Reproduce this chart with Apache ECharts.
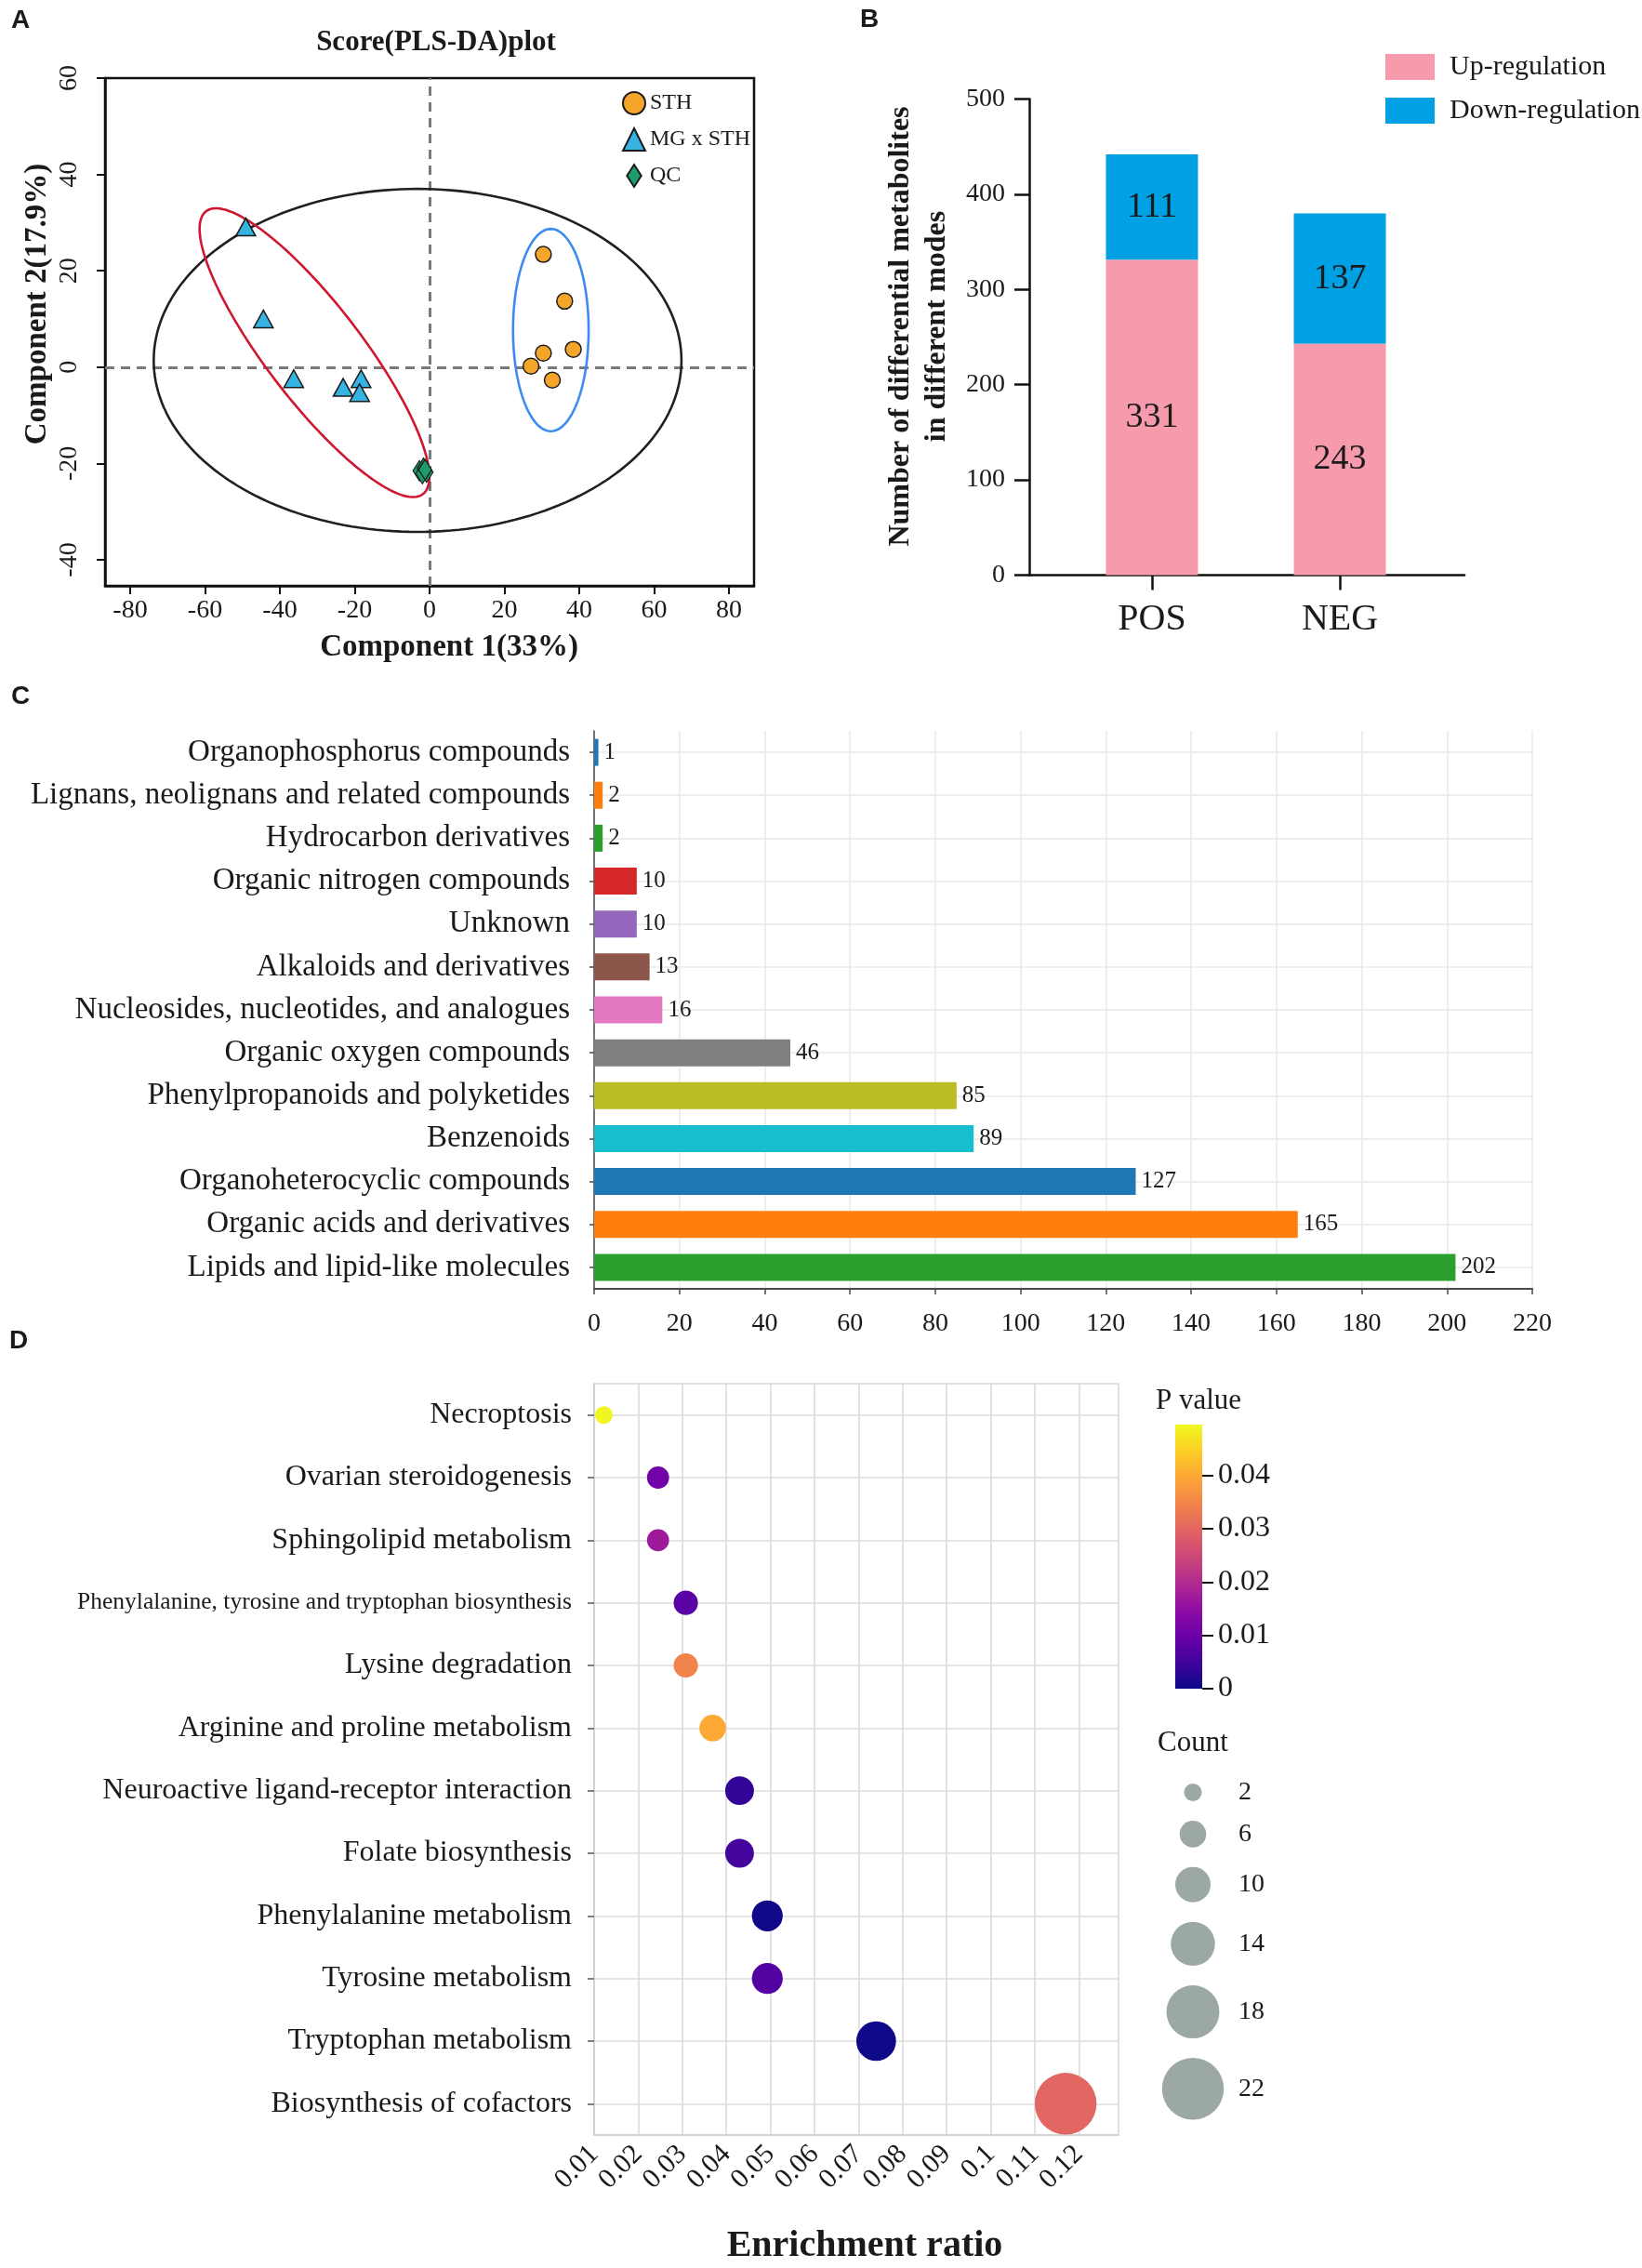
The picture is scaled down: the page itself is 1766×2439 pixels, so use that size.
<!DOCTYPE html>
<html><head><meta charset="utf-8">
<script src="https://cdn.jsdelivr.net/npm/echarts@6/dist/echarts.min.js"></script>
<style>html,body{margin:0;padding:0;background:#fff}#c{width:1766px;height:2439px}</style>
</head><body><div id="c"></div>
<script>
// ---------- Panel A : PLS-DA scores ----------
const sthX = [30.4, 36.1, 30.4, 38.4, 27.1, 32.8];
const sthY = [23.4, 13.7, 2.9, 3.7, 0.2, -2.7];
const mgX = [-49.1, -44.4, -36.3, -23.1, -18.3, -18.7];
const mgY = [29.1, 10.0, -2.4, -4.2, -2.4, -5.3];
const qcX = [-2.7, -1.6, -0.8, -1.9, -1.2];
const qcY = [-21.5, -21.0, -21.8, -22.1, -21.3];
const ellipseNames = ['All samples', 'MG x STH ellipse', 'STH ellipse'];
const ellipseCenter = [[-3.2, 1.4], [-30.75, 3.0], [32.4, 7.7]];
const ellipseU = [[70.5, 0], [28.5, -29.6], [10.1, 0]];
const ellipseV = [[0, 35.6], [11.4, 4.74], [0, 21.0]];
const ticksAX = [-80, -60, -40, -20, 0, 20, 40, 60, 80];
const ticksAY = [-40, -20, 0, 20, 40, 60];

// ---------- Panel B : up / down regulation ----------
const modes = ['POS', 'NEG'];
const upReg = [331, 243];
const downReg = [111, 137];

// ---------- Panel C : classes ----------
const classNames = ['Organophosphorus compounds', 'Lignans, neolignans and related compounds', 'Hydrocarbon derivatives',
  'Organic nitrogen compounds', 'Unknown', 'Alkaloids and derivatives', 'Nucleosides, nucleotides, and analogues',
  'Organic oxygen compounds', 'Phenylpropanoids and polyketides', 'Benzenoids', 'Organoheterocyclic compounds',
  'Organic acids and derivatives', 'Lipids and lipid-like molecules'];
const classCounts = [1, 2, 2, 10, 10, 13, 16, 46, 85, 89, 127, 165, 202];

// ---------- Panel D : KEGG enrichment ----------
const pathways = ['Necroptosis', 'Ovarian steroidogenesis', 'Sphingolipid metabolism',
  'Phenylalanine, tyrosine and tryptophan biosynthesis', 'Lysine degradation', 'Arginine and proline metabolism',
  'Neuroactive ligand-receptor interaction', 'Folate biosynthesis', 'Phenylalanine metabolism',
  'Tyrosine metabolism', 'Tryptophan metabolism', 'Biosynthesis of cofactors'];
const enrichRatio = [0.0122, 0.0245, 0.0245, 0.0308, 0.0308, 0.0369, 0.0430, 0.0430, 0.0493, 0.0493, 0.0740, 0.1170];
const pathCount = [2, 4, 4, 5, 5, 6, 7, 7, 8, 8, 12, 22];
const pValue = [0.049, 0.011, 0.017, 0.008, 0.0347, 0.040, 0.0035, 0.0055, 0.0003, 0.0074, 0.0002, 0.030];
const ratioTicks = [0.01, 0.02, 0.03, 0.04, 0.05, 0.06, 0.07, 0.08, 0.09, 0.1, 0.11, 0.12];
const pTicks = [0, 0.01, 0.02, 0.03, 0.04];
const pMax = 0.0495;
const countLegend = [2, 6, 10, 14, 18, 22];

// ---------- styles ----------
const SERIF = '"Liberation Serif", "Times New Roman", serif';
const SANS = '"Liberation Sans", Arial, sans-serif';
const TXT = '#1a1a1a';
const barColors = ['#1f77b4', '#ff7f0e', '#2ca02c', '#d62728', '#9467bd', '#8c564b', '#e377c2', '#7f7f7f',
  '#bcbd22', '#17becf', '#1f77b4', '#ff7f0e', '#2ca02c'];
const plasma = ['#0d0887', '#41049d', '#6a00a8', '#8f0da4', '#b12a90', '#cc4778', '#e16462', '#f2844b', '#fca636', '#fcce25', '#f0f921'];
const sizeOf = c => 14.3 + 2.37 * c;
const upColor = '#f79aab', downColor = '#00a0e4';

function ellipsePts(i) {
  const pts = []; const N = 200;
  for (let k = 0; k <= N; k++) {
    const t = 2 * Math.PI * k / N;
    pts.push([ellipseCenter[i][0] + ellipseU[i][0] * Math.cos(t) + ellipseV[i][0] * Math.sin(t),
              ellipseCenter[i][1] + ellipseU[i][1] * Math.cos(t) + ellipseV[i][1] * Math.sin(t)]);
  }
  return pts;
}
const ellipseColors = ['#231f20', '#cf1830', '#3d8bf0'];

const chart = echarts.init(document.getElementById('c'), null, {renderer: 'canvas'});

const gridCommon = {containLabel: false, outerBoundsMode: 'none'};
const grids = [
  Object.assign({left: 113, top: 84, width: 698, height: 546, show: true, borderColor: '#111', borderWidth: 2.5}, gridCommon),
  Object.assign({left: 1107, top: 106.5, width: 468, height: 512}, gridCommon),
  Object.assign({left: 639, top: 786, width: 1009, height: 600}, gridCommon),
  Object.assign({left: 639, top: 1488, width: 564, height: 808, show: true, borderColor: '#d6d6d6', borderWidth: 1.5}, gridCommon),
  Object.assign({left: 1264, top: 1532, width: 29, height: 284}, gridCommon)
];

const xAxes = [
  {type: 'value', gridIndex: 0, min: -86.7, max: 86.7,
   axisLine: {onZero: false, lineStyle: {color: '#111', width: 2.5}},
   axisTick: {customValues: ticksAX, length: 9, lineStyle: {color: '#111', width: 2}},
   axisLabel: {customValues: ticksAX, fontFamily: SERIF, fontSize: 28, color: TXT, margin: 13},
   splitLine: {show: false}},
  {type: 'value', gridIndex: 1, min: 0.347, max: 2.663,
   axisLine: {onZero: false, lineStyle: {color: '#111', width: 2.5}},
   axisTick: {customValues: [1, 2], length: 16, lineStyle: {color: '#111', width: 2.5}},
   axisLabel: {customValues: [1, 2], formatter: v => modes[Math.round(v) - 1], fontFamily: SERIF, fontSize: 40, color: TXT, margin: 28},
   splitLine: {show: false}},
  {type: 'value', gridIndex: 2, min: 0, max: 220, interval: 20,
   axisLine: {show: true, onZero: false, lineStyle: {color: '#4a4a4a', width: 2}},
   axisTick: {show: true, length: 6, lineStyle: {color: '#4a4a4a', width: 1.5}},
   axisLabel: {fontFamily: SERIF, fontSize: 28, color: TXT, margin: 24},
   splitLine: {show: true, lineStyle: {color: '#e9e9e9', width: 1.5}}},
  {type: 'value', gridIndex: 3, min: 0.01, max: 0.129, interval: 0.01,
   axisLine: {show: true, onZero: false, lineStyle: {color: '#cfcfcf', width: 1.5}},
   axisTick: {customValues: ratioTicks, length: 7, lineStyle: {color: '#555', width: 1.5}},
   axisLabel: {customValues: ratioTicks, rotate: 45, fontFamily: SERIF, fontSize: 30, color: TXT, margin: 16},
   splitLine: {show: true, lineStyle: {color: '#d9d9d9', width: 1.5}}},
  {type: 'category', gridIndex: 4, data: ['p'], show: false}
];

const yAxes = [
  {type: 'value', gridIndex: 0, min: -45.4, max: 60,
   axisLine: {onZero: false, lineStyle: {color: '#111', width: 2.5}},
   axisTick: {customValues: ticksAY, length: 9, lineStyle: {color: '#111', width: 2}},
   axisLabel: {customValues: ticksAY, rotate: 90, fontFamily: SERIF, fontSize: 28, color: TXT, margin: 24},
   splitLine: {show: false}},
  {type: 'value', gridIndex: 1, min: 0, max: 500, interval: 100,
   axisLine: {show: true, onZero: false, lineStyle: {color: '#111', width: 2.5}},
   axisTick: {show: true, length: 16, lineStyle: {color: '#111', width: 2.5}},
   axisLabel: {fontFamily: SERIF, fontSize: 28, color: TXT, margin: 26},
   splitLine: {show: false}},
  {type: 'category', gridIndex: 2, data: classNames, inverse: true,
   axisLine: {show: true, onZero: false, lineStyle: {color: '#4a4a4a', width: 1.5}},
   axisTick: {show: true, alignWithLabel: true, length: 5, lineStyle: {color: '#4a4a4a', width: 1.5}},
   axisLabel: {interval: 0, fontFamily: SERIF, fontSize: 33, color: TXT, margin: 26},
   splitLine: {show: false}},
  {type: 'category', gridIndex: 3, data: pathways, inverse: true,
   axisLine: {show: true, onZero: false, lineStyle: {color: '#cfcfcf', width: 1.5}},
   axisTick: {show: true, alignWithLabel: true, length: 7, lineStyle: {color: '#555', width: 1.5}},
   axisLabel: {interval: 0, margin: 24,
     formatter: v => v.length > 45 ? '{s|' + v + '}' : '{n|' + v + '}',
     rich: {s: {fontFamily: SERIF, fontSize: 25.5, color: TXT}, n: {fontFamily: SERIF, fontSize: 32, color: TXT}}},
   splitLine: {show: false}},
  {type: 'value', gridIndex: 4, min: 0, max: pMax, position: 'right',
   axisLine: {show: false, onZero: false},
   axisTick: {show: true, customValues: pTicks, length: 12, lineStyle: {color: '#111', width: 2}},
   axisLabel: {customValues: pTicks, fontFamily: SERIF, fontSize: 32, color: TXT, margin: 17},
   splitLine: {show: false}}
];

const series = [];
// Panel A ellipses + zero lines
ellipseNames.forEach((n, i) => {
  const s = {name: n, type: 'line', xAxisIndex: 0, yAxisIndex: 0, data: ellipsePts(i), showSymbol: false, symbol: 'none',
    lineStyle: {color: ellipseColors[i], width: 2.6}, z: 3, silent: true};
  if (i === 0) {
    s.markLine = {silent: true, symbol: ['none', 'none'], z: 2, label: {show: false},
      lineStyle: {color: '#7a7a7a', type: [10, 7], width: 3},
      data: [{xAxis: 0}, {yAxis: 0}]};
  }
  series.push(s);
});
series.push({name: 'STH', type: 'scatter', xAxisIndex: 0, yAxisIndex: 0, data: sthX.map((x, i) => [x, sthY[i]]),
  symbol: 'circle', symbolSize: 17, itemStyle: {color: '#f6a52b', borderColor: '#1a1a1a', borderWidth: 1.5, opacity: 1}, z: 6});
series.push({name: 'MG x STH', type: 'scatter', xAxisIndex: 0, yAxisIndex: 0, data: mgX.map((x, i) => [x, mgY[i]]),
  symbol: 'triangle', symbolSize: [21, 19], itemStyle: {color: '#36b3e2', borderColor: '#1a1a1a', borderWidth: 1.5, opacity: 1}, z: 6});
series.push({name: 'QC', type: 'scatter', xAxisIndex: 0, yAxisIndex: 0, data: qcX.map((x, i) => [x, qcY[i]]),
  symbol: 'diamond', symbolSize: [14, 22], itemStyle: {color: '#1f9c6b', borderColor: '#1a1a1a', borderWidth: 1.2, opacity: 1}, z: 6});

// Panel B : up-regulation bars from 0, down-regulation segments stacked on top
series.push({name: 'Up-regulation', type: 'bar', xAxisIndex: 1, yAxisIndex: 1, barWidth: 99,
  data: modes.map((m, i) => [i + 1, upReg[i]]), itemStyle: {color: upColor},
  label: {show: true, position: 'inside', formatter: p => p.value[1], fontFamily: SERIF, fontSize: 38, color: TXT}});
series.push({name: 'Down-regulation', type: 'custom', xAxisIndex: 1, yAxisIndex: 1,
  data: modes.map((m, i) => [i + 1, upReg[i], downReg[i]]), encode: {x: 0, y: 1},
  itemStyle: {color: downColor},
  renderItem: (params, api) => {
    const x = api.value(0), base = api.value(1), h = api.value(2);
    const p0 = api.coord([x, base]), p1 = api.coord([x, base + h]);
    return {type: 'rect', shape: {x: p0[0] - 49.5, y: p1[1], width: 99, height: p0[1] - p1[1]},
      style: {fill: downColor},
      textContent: {style: {text: String(h), font: '38px ' + SERIF, fill: TXT}},
      textConfig: {position: 'inside'}};
  }});

// Panel C
series.push({name: 'classes', type: 'bar', xAxisIndex: 2, yAxisIndex: 2, barWidth: 29, z: 3,
  data: classCounts.map((v, i) => ({value: v, itemStyle: {color: barColors[i]}})),
  label: {show: true, position: 'right', distance: 6, fontFamily: SERIF, fontSize: 25, color: TXT},
  markLine: {silent: true, symbol: ['none', 'none'], z: 1, label: {show: false},
    lineStyle: {color: '#e9e9e9', type: 'solid', width: 1.5},
    data: classNames.map(c => ({yAxis: c}))}});

// Panel D
const bubbleIndex = series.length;
series.push({name: 'pathways', type: 'scatter', xAxisIndex: 3, yAxisIndex: 3, z: 5,
  data: pathways.map((p, i) => [enrichRatio[i], p, pValue[i], pathCount[i]]),
  symbolSize: v => sizeOf(v[3]), itemStyle: {opacity: 1},
  markLine: {silent: true, symbol: ['none', 'none'], z: 1, label: {show: false},
    lineStyle: {color: '#dcdcdc', type: 'solid', width: 1.5},
    data: pathways.map(c => ({yAxis: c}))}});

// colour bar
const stops = plasma.map((c, i) => ({offset: i / (plasma.length - 1), color: c}));
series.push({name: 'colorbar', type: 'bar', xAxisIndex: 4, yAxisIndex: 4, barWidth: '100%', silent: true,
  data: [pMax], itemStyle: {color: new echarts.graphic.LinearGradient(0, 1, 0, 0, stops)}});

// size legend graphics
const sizeGraphics = [];
let yPos = 1927.6;
countLegend.forEach((c, k) => {
  if (k > 0) yPos += (sizeOf(countLegend[k - 1]) + sizeOf(c)) / 2 + 21;
  sizeGraphics.push({type: 'circle', shape: {cx: 1283, cy: yPos, r: sizeOf(c) / 2}, style: {fill: '#9ca8a2'}});
  sizeGraphics.push({type: 'text', x: 1332, y: yPos, style: {text: String(c), font: '28px ' + SERIF, fill: TXT, align: 'left', verticalAlign: 'middle', textAlign: 'left', textVerticalAlign: 'middle'}});
});

function txt(text, x, y, font, opts) {
  opts = opts || {};
  const el = {type: 'text', x: x, y: y, style: Object.assign({text: text, font: font, fill: TXT,
    align: 'center', verticalAlign: 'middle', textAlign: 'center', textVerticalAlign: 'middle'}, opts.style || {})};
  if (opts.rotation) el.rotation = opts.rotation;
  return el;
}

const graphics = [
  txt('A', 22, 22, 'bold 28px ' + SANS),
  txt('Score(PLS-DA)plot', 469, 46, 'bold 31px ' + SERIF),
  txt('Component 1(33%)', 483, 696, 'bold 33px ' + SERIF),
  txt('Component 2(17.9%)', 40, 327, 'bold 33px ' + SERIF, {rotation: Math.PI / 2}),
  txt('B', 935, 21, 'bold 28px ' + SANS),
  txt('Number of differential metabolites\nin different modes', 988, 351, 'bold 32px ' + SERIF, {rotation: Math.PI / 2, style: {lineHeight: 39}}),
  txt('C', 22, 749, 'bold 28px ' + SANS),
  txt('D', 20, 1442, 'bold 28px ' + SANS),
  txt('Enrichment ratio', 930, 2416, 'bold 40px ' + SERIF),
  txt('P value', 1243, 1507, '31px ' + SERIF, {style: {align: 'left', textAlign: 'left'}}),
  txt('Count', 1245, 1875, '31px ' + SERIF, {style: {align: 'left', textAlign: 'left'}})
].concat(sizeGraphics);

chart.setOption({
  animation: false,
  backgroundColor: '#ffffff',
  grid: grids,
  xAxis: xAxes,
  yAxis: yAxes,
  legend: [
    {data: [{name: 'STH'}, {name: 'MG x STH'}, {name: 'QC', icon: 'path://M9,0L18,14L9,28L0,14Z'}],
     orient: 'vertical', left: 664, top: 93, itemWidth: 24, itemHeight: 24, itemGap: 13, selectedMode: false,
     textStyle: {fontFamily: SERIF, fontSize: 24, color: TXT}},
    {data: [{name: 'Up-regulation', itemStyle: {color: upColor}}, {name: 'Down-regulation', itemStyle: {color: downColor}}],
     orient: 'vertical', left: 1485, top: 52, icon: 'rect',
     itemWidth: 53, itemHeight: 28, itemGap: 17, selectedMode: false,
     textStyle: {fontFamily: SERIF, fontSize: 30, color: TXT, padding: [0, 0, 0, 11]}}
  ],
  visualMap: [{type: 'continuous', show: false, seriesIndex: bubbleIndex, dimension: 2, min: 0, max: pMax,
    inRange: {color: plasma}}],
  graphic: graphics,
  series: series
});
</script></body></html>
